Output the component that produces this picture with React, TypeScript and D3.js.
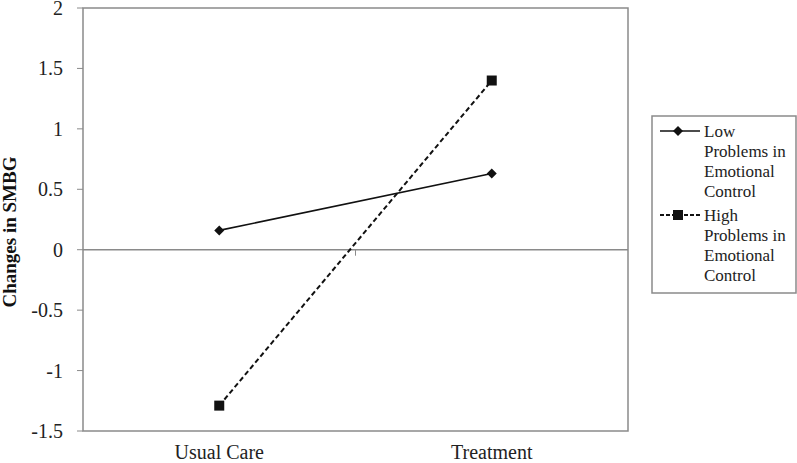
import React from "react";
import * as d3 from "d3";

const categories = ["Usual Care", "Treatment"];
const lowValues = [0.16, 0.63];
const highValues = [-1.29, 1.4];
const yTicks = [-1.5, -1, -0.5, 0, 0.5, 1, 1.5, 2];
const seriesNames = [
  ["Low", "Problems in", "Emotional", "Control"],
  ["High", "Problems in", "Emotional", "Control"],
];

export default function App() {
  const W = 797, H = 463;
  const left = 83, right = 628, top = 8, bottom = 431;
  const x = d3.scaleBand().domain(categories).range([left, right]);
  const y = d3.scaleLinear().domain([-1.5, 2]).range([bottom, top]);
  const cx = (c: string) => (x(c) as number) + x.bandwidth() / 2;
  const line = d3.line<number>().x((_, i) => cx(categories[i])).y((d) => y(d));
  const font = "Liberation Serif, Times New Roman, serif";
  const grey = "#8a8a8a";
  const lx = 652, ly = 116, lw = 144, lh = 177;
  const diamond = (px: number, py: number) =>
    `M${px},${py - 5}L${px + 5},${py}L${px},${py + 5}L${px - 5},${py}Z`;
  return (
    <svg width={W} height={H} style={{ position: "absolute", left: 0, top: 0 }}>
      <rect x={0} y={0} width={W} height={H} fill="#fff" />
      <rect x={left} y={top} width={right - left} height={bottom - top} fill="none" stroke={grey} strokeWidth={1.5} />
      <line x1={left} x2={right} y1={y(0)} y2={y(0)} stroke={grey} strokeWidth={1.5} />
      {[left + x.bandwidth()].map((t, i) => (
        <line key={i} x1={t} x2={t} y1={y(0)} y2={y(0) + 6} stroke={grey} strokeWidth={1} />
      ))}
      {yTicks.map((t) => (
        <g key={t}>
          <line x1={left - 6} x2={left} y1={y(t)} y2={y(t)} stroke={grey} strokeWidth={1} />
          <text x={63} y={y(t)} dy="0.35em" textAnchor="end" fontFamily={font} fontSize={20} fill="#222">
            {String(t)}
          </text>
        </g>
      ))}
      {categories.map((c) => (
        <text key={c} x={cx(c)} y={459} textAnchor="middle" fontFamily={font} fontSize={20} fill="#222">
          {c}
        </text>
      ))}
      <text
        transform={`translate(16,${232}) rotate(-90)`}
        textAnchor="middle"
        fontFamily={font}
        fontSize={19}
        fontWeight="bold"
        fill="#111"
      >
        Changes in SMBG
      </text>
      <path d={line(lowValues) ?? ""} fill="none" stroke="#111" strokeWidth={1.6} />
      <path d={line(highValues) ?? ""} fill="none" stroke="#111" strokeWidth={2} strokeDasharray="5,3" />
      {lowValues.map((v, i) => (
        <path key={i} d={diamond(cx(categories[i]), y(v))} fill="#111" />
      ))}
      {highValues.map((v, i) => (
        <rect key={i} x={cx(categories[i]) - 5} y={y(v) - 5} width={10} height={10} fill="#111" />
      ))}
      <rect x={lx} y={ly} width={lw} height={lh} fill="#fff" stroke={grey} strokeWidth={1.5} />
      {seriesNames.map((lines, si) => {
        const c0 = ly + 15 + si * 84;
        return (
          <g key={si}>
            <line
              x1={660}
              x2={700}
              y1={c0}
              y2={c0}
              stroke="#111"
              strokeWidth={si === 0 ? 1.6 : 2}
              strokeDasharray={si === 0 ? undefined : "4,2"}
            />
            {si === 0 ? (
              <path d={diamond(678, c0)} fill="#111" />
            ) : (
              <rect x={673} y={c0 - 5} width={10} height={10} fill="#111" />
            )}
            {lines.map((t, k) => (
              <text key={k} x={704} y={c0 + k * 20} dy="0.35em" fontFamily={font} fontSize={17} fill="#222">
                {t}
              </text>
            ))}
          </g>
        );
      })}
    </svg>
  );
}
